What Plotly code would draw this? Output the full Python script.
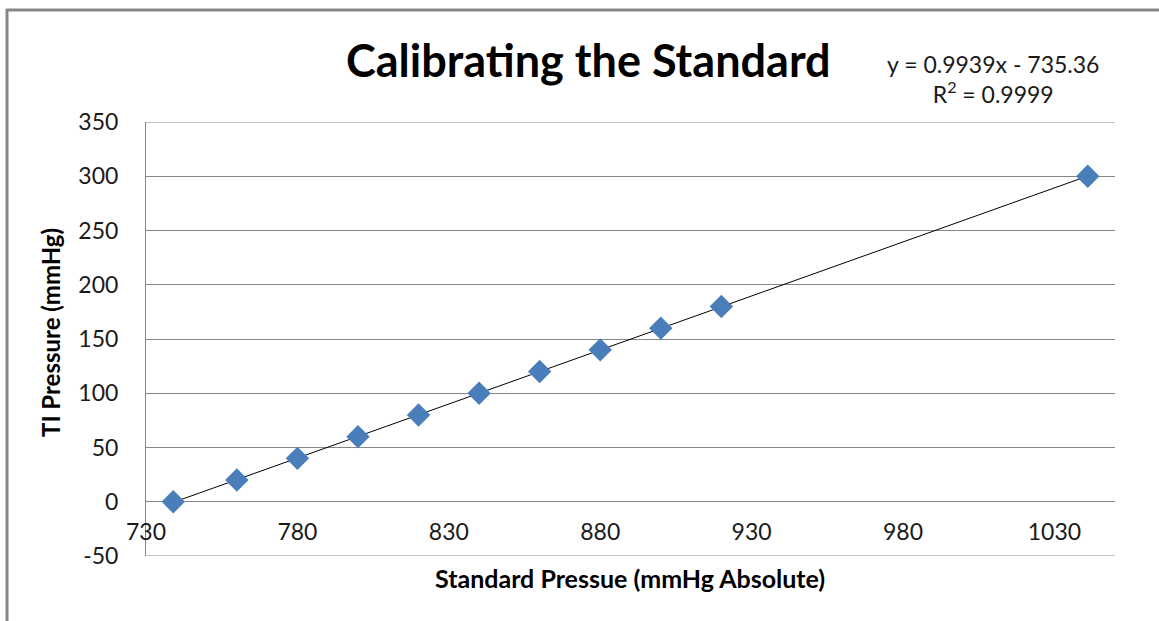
import numpy as np
import plotly.graph_objects as go

# Data
standard_pressure = [739, 760, 780, 800, 820, 840, 860, 880, 900, 920, 1041]
ti_pressure = [0, 20, 40, 60, 80, 100, 120, 140, 160, 180, 300]
x_ticks = [730, 780, 830, 880, 930, 980, 1030]
y_ticks = [-50, 0, 50, 100, 150, 200, 250, 300, 350]

title_text = "Calibrating the Standard"
x_title = "Standard Pressue (mmHg Absolute)"
y_title = "TI Pressure (mmHg)"
eq_text = "y = 0.9939x - 735.36<br>R<sup>2</sup> = 0.9999"

W, H = 1159, 621
L, R, T, B = 146, 44, 122, 65
PW, PH = W - L - R, H - T - B

def xp(px):
    return (px - L) / PW

def yp(py):
    return (H - B - py) / PH

slope, intercept = np.polyfit(standard_pressure, ti_pressure, 1)
trend_x = [min(standard_pressure), max(standard_pressure)]
trend_y = [slope * v + intercept for v in trend_x]

FONT = "Lato"
GRID = "#868686"

fig = go.Figure()
fig.add_trace(go.Scatter(x=trend_x, y=trend_y, mode="lines",
                         line=dict(color="black", width=1), hoverinfo="skip"))
fig.add_trace(go.Scatter(x=standard_pressure, y=ti_pressure, mode="markers",
                         marker=dict(symbol="diamond", size=18, color="#4A7EBB",
                                     line=dict(width=0))))

ymin, ymax = y_ticks[0], y_ticks[-1]
fig.update_layout(
    width=W, height=H,
    margin=dict(l=L, r=R, t=T, b=B, pad=0),
    paper_bgcolor="white", plot_bgcolor="white",
    showlegend=False,
    font=dict(family=FONT, color="black"),
    xaxis=dict(range=[730, 1050], tickvals=x_ticks, showgrid=False, zeroline=False,
               showline=False, anchor="free", position=(0 - ymin) / (ymax - ymin),
               ticks="", tickfont=dict(size=23, color="#1a1a1a"),
               ticklabelstandoff=14),
    yaxis=dict(range=[ymin, ymax], tickvals=y_ticks, ticktext=[str(v) for v in y_ticks],
               showgrid=True, gridcolor=GRID,
               gridwidth=1, zeroline=True, zerolinecolor=GRID, zerolinewidth=1,
               showline=True, linecolor=GRID, linewidth=1, ticks="",
               tickfont=dict(size=23, color="#1a1a1a"), ticklabelstandoff=22),
)

annotations = [
    dict(text="<b>" + title_text + "</b>", x=xp(588), y=yp(60), xref="paper", yref="paper",
         showarrow=False, font=dict(size=45, family=FONT, color="black"),
         xanchor="center", yanchor="middle"),
    dict(text=eq_text, x=xp(993), y=yp(79), xref="paper", yref="paper",
         showarrow=False, font=dict(size=23, family=FONT, color="#1a1a1a"),
         xanchor="center", yanchor="middle", align="center"),
    dict(text="<b>" + x_title + "</b>", x=xp(630), y=yp(578), xref="paper", yref="paper",
         showarrow=False, font=dict(size=25, family=FONT, color="black"),
         xanchor="center", yanchor="middle"),
    dict(text="<b>" + y_title + "</b>", x=xp(50), y=yp(333), xref="paper", yref="paper",
         showarrow=False, font=dict(size=24, family=FONT, color="black"),
         xanchor="center", yanchor="middle", textangle=-90),
]
fig.update_layout(annotations=annotations)

shapes = [
    # plot-area boundary gridlines (top and bottom)
    dict(type="line", xref="paper", yref="y", x0=0, x1=1, y0=ymax, y1=ymax,
         line=dict(color=GRID, width=1), layer="below"),
    dict(type="line", xref="paper", yref="y", x0=0, x1=1, y0=ymin, y1=ymin,
         line=dict(color=GRID, width=1), layer="below"),
    # chart frame
    dict(type="line", xref="paper", yref="paper", x0=xp(6), x1=xp(W), y0=yp(10), y1=yp(10),
         line=dict(color="#878787", width=3)),
    dict(type="line", xref="paper", yref="paper", x0=xp(7), x1=xp(7), y0=yp(9), y1=yp(H),
         line=dict(color="#878787", width=3)),
]
fig.update_layout(shapes=shapes)

fig.write_html("out.html")
